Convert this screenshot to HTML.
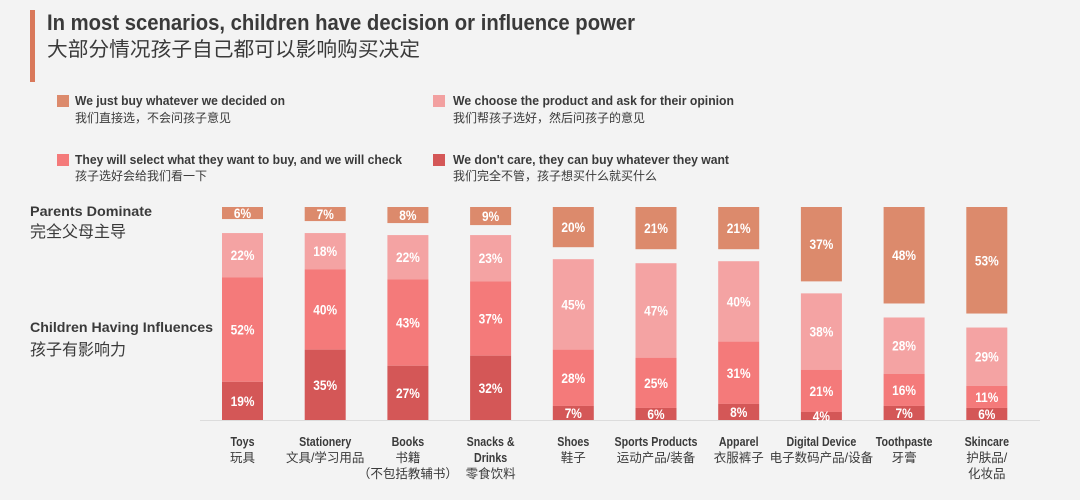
<!DOCTYPE html>
<html><head><meta charset="utf-8"><style>
body{margin:0;background:#f3f3f3;}
svg{display:block;font-family:"Liberation Sans Narrow","Liberation Sans","Noto Sans CJK SC",sans-serif;}
.cn{font-family:"Liberation Sans","Noto Sans CJK SC",sans-serif;}
</style></head><body>
<svg id="chart" width="1080" height="500" viewBox="0 0 1080 500">
<rect width="1080" height="500" fill="#f3f3f3"/>
<rect x="30" y="10" width="5" height="72" fill="#d9785a"/>
<text x="47" y="30" font-size="22" font-weight="bold" fill="#3a3a3a" textLength="588" lengthAdjust="spacingAndGlyphs">In most scenarios, children have decision or influence power</text>
<text class="cn" x="47" y="56" font-size="20" fill="#3a3a3a" textLength="373" lengthAdjust="spacingAndGlyphs">大部分情况孩子自己都可以影响购买决定</text>
<g>
<g><rect x="57" y="95" width="12" height="12" fill="#dc8a6c"/><text x="75" y="105" font-size="13" font-weight="bold" fill="#3a3a3a" textLength="210" lengthAdjust="spacingAndGlyphs">We just buy whatever we decided on</text><text class="cn" x="75" y="122" font-size="12" fill="#3a3a3a">我们直接选，不会问孩子意见</text></g>
<g><rect x="433" y="95" width="12" height="12" fill="#f2a0a0"/><text x="453" y="105" font-size="13" font-weight="bold" fill="#3a3a3a" textLength="281" lengthAdjust="spacingAndGlyphs">We choose the product and ask for their opinion</text><text class="cn" x="453" y="122" font-size="12" fill="#3a3a3a">我们帮孩子选好，然后问孩子的意见</text></g>
<g><rect x="57" y="154" width="12" height="12" fill="#f47a7a"/><text x="75" y="164" font-size="13" font-weight="bold" fill="#3a3a3a" textLength="327" lengthAdjust="spacingAndGlyphs">They will select what they want to buy, and we will check</text><text class="cn" x="75" y="180" font-size="12" fill="#3a3a3a">孩子选好会给我们看一下</text></g>
<g><rect x="433" y="154" width="12" height="12" fill="#d45757"/><text x="453" y="164" font-size="13" font-weight="bold" fill="#3a3a3a" textLength="276" lengthAdjust="spacingAndGlyphs">We don't care, they can buy whatever they want</text><text class="cn" x="453" y="180" font-size="12" fill="#3a3a3a">我们完全不管，孩子想买什么就买什么</text></g>
</g>
<text x="30" y="216" font-size="14" font-weight="bold" fill="#3a3a3a" textLength="122" lengthAdjust="spacingAndGlyphs">Parents Dominate</text>
<text class="cn" x="30" y="237" font-size="16" fill="#3a3a3a">完全父母主导</text>
<text x="30" y="332" font-size="14" font-weight="bold" fill="#3a3a3a" textLength="183" lengthAdjust="spacingAndGlyphs">Children Having Influences</text>
<text class="cn" x="30" y="355" font-size="16" fill="#3a3a3a">孩子有影响力</text>
<line x1="200" y1="420.5" x2="1040" y2="420.5" stroke="#dcdcdc" stroke-width="1"/>
<g id="bars"></g>
</svg>
<script>
const categories=["Toys","Stationery","Books","Snacks &|Drinks","Shoes","Sports Products","Apparel","Digital Device","Toothpaste","Skincare"];
const categoriesCn=["玩具","文具/学习用品","书籍|（不包括教辅书）","零食饮料","鞋子","运动产品/装备","衣服裤子","电子数码产品/设备","牙膏","护肤品/|化妆品"];
const justBuy=[6,7,8,9,20,21,21,37,48,53];
const askOpinion=[22,18,22,23,45,47,40,38,28,29];
const weCheck=[52,40,43,37,28,25,31,21,16,11];
const dontCare=[19,35,27,32,7,6,8,4,7,6];
const colors=["#dc8a6c","#f4a3a3","#f47a7a","#d45757"];
const NS="http://www.w3.org/2000/svg";
const g=document.getElementById('bars');
const top0=207,base=420,gap=12,scale=(base-top0-gap)/100;
const xc=i=>242.5+i*82.7;
const bw=41;
function mk(t,a){const e=document.createElementNS(NS,t);for(const k in a)e.setAttribute(k,a[k]);return e;}
function squeeze(t,f){const w=t.getComputedTextLength();t.setAttribute('textLength',w*f);t.setAttribute('lengthAdjust','spacingAndGlyphs');}
function seg(i,y,h,c,v,name){
  const r=mk('rect',{x:xc(i)-bw/2,y:y,width:bw,height:h,fill:c});
  
  
  g.appendChild(r);
  const t=mk('text',{x:xc(i),y:y+h/2+5,'font-size':14,'font-weight':'bold',fill:'#fff','text-anchor':'middle'});
  
  
  t.textContent=v+'%';
  g.appendChild(t);
  squeeze(t,0.85);
}
categories.forEach((c,i)=>{
  seg(i,top0,justBuy[i]*scale,colors[0],justBuy[i],'bar-just-buy-'+i);
  let y=base;
  const hd=dontCare[i]*scale;y-=hd;const yd=y;
  const hc=weCheck[i]*scale;y-=hc;const yc=y;
  const ha=askOpinion[i]*scale;y-=ha;
  seg(i,y,ha,colors[1],askOpinion[i],'bar-ask-opinion-'+i);
  seg(i,yc,hc,colors[2],weCheck[i],'bar-we-check-'+i);
  seg(i,yd,hd,colors[3],dontCare[i],'bar-dont-care-'+i);
  let ly=446;
  c.split('|').forEach(s=>{
    const t=mk('text',{x:xc(i),y:ly,'font-size':13,'font-weight':'bold',fill:'#3a3a3a','text-anchor':'middle'});
    
    
    t.textContent=s;g.appendChild(t);ly+=16;
    squeeze(t,0.82);
  });
  categoriesCn[i].split('|').forEach(s=>{
    const t=mk('text',{x:xc(i),y:ly,'font-size':12.5,fill:'#3a3a3a','text-anchor':'middle',class:'cn'});
    
    
    t.textContent=s;g.appendChild(t);ly+=16;
  });
});
</script>
</body></html>
